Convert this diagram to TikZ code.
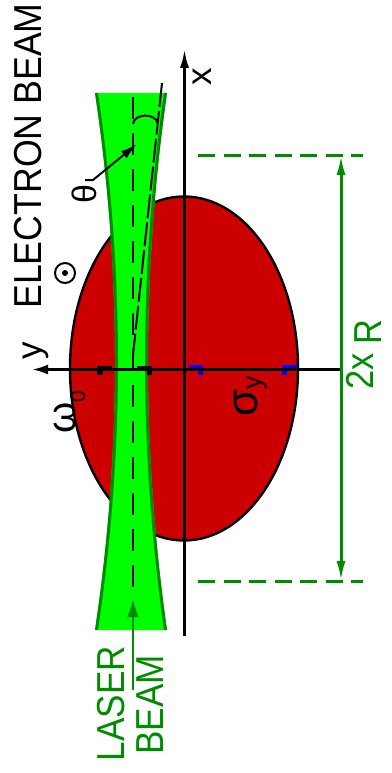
\documentclass[tikz,border=0pt]{standalone}
\usepackage{fontspec}
\setmainfont{Liberation Sans}
\usetikzlibrary{arrows.meta}
\definecolor{beamgreen}{HTML}{00FF00}
\definecolor{edgegreen}{HTML}{008A00}
\definecolor{dimgreen}{HTML}{008C00}
\definecolor{ered}{HTML}{CC0000}
\definecolor{tickblue}{HTML}{0000FF}
\begin{document}
\begin{tikzpicture}[x=1pt,y=-1pt,
  lbl/.style={inner sep=0pt, rotate=90, font=\fontsize{39}{39}\selectfont},
  axisline/.style={black, line width=2.7pt},
  dimline/.style={dimgreen, line width=3pt},
  dimdash/.style={dimgreen, line width=3pt, dash pattern=on 17pt off 8.5pt},
  beamedge/.style={edgegreen, line width=3pt},
  tickmark/.style={black},
  bluemark/.style={tickblue}]
\useasboundingbox (0,0) rectangle (391,773);
\clip (0,0) rectangle (391,773);

% coordinates
\coordinate (xbot) at (184.5,636);
\coordinate (xtop) at (184.5,49);
\coordinate (yright) at (342,369.5);
\coordinate (yleft) at (32,369.5);
\coordinate (dimtop) at (341,155);
\coordinate (dimbot) at (341,581);
\coordinate (dtl) at (198,155);
\coordinate (dtr) at (363,155);
\coordinate (dbl) at (198,581);
\coordinate (dbr) at (363,581);
\coordinate (lasfoot) at (133,690);
\coordinate (lastip) at (133,599);
\coordinate (thfoot) at (85,180);
\coordinate (thbend) at (93,180);
\coordinate (thtip) at (137,144);
\coordinate (ctop) at (132.7,97);
\coordinate (cbot) at (132.7,593);
\coordinate (ttop) at (162,83);
\coordinate (tbot) at (133,355);

% electron bunch
\draw[fill=ered, draw=black, line width=2.4pt] (184,368.5) ellipse [x radius=114pt, y radius=172pt];

% laser beam
\fill[beamgreen] (95,93) .. controls (121.67,272) and (121.67,451) .. (95,630)
  -- (167,630) .. controls (141.67,451) and (141.67,272) .. (167,93) -- cycle;
\draw[beamedge] (96.5,93) .. controls (123.17,272) and (123.17,451) .. (96.5,630);
\draw[beamedge] (165.5,93) .. controls (140.17,272) and (140.17,451) .. (165.5,630);

% beam axis and divergence line
\draw[black, line width=2.3pt, dash pattern=on 22pt off 14pt] (ctop) -- (cbot);
\draw[black, line width=2pt, dash pattern=on 24pt off 4pt] (ttop) -- (tbot);
\draw[black, line width=2pt] (133,124) .. controls (134,113) and (156,113) .. (157.5,123);
\draw[black, line width=2pt, -{Latex[length=17pt,width=9pt]}] (thfoot) -- (thbend) -- (thtip);

% axes
\draw[axisline, -{Latex[length=19pt,width=9pt]}] (xbot) -- (xtop);
\draw[axisline, -{Latex[length=16pt,width=10pt]}] (yright) -- (yleft);

% tick marks
\fill[tickmark] (97,366) rectangle (112,370);
\fill[tickmark] (97,370) rectangle (103,375);
\fill[tickmark] (137,366) rectangle (152,370);
\fill[tickmark] (147,370) rectangle (152,375);
\fill[bluemark] (189,365) rectangle (203,368);
\fill[bluemark] (198,371) rectangle (203,375);
\fill[bluemark] (282,365) rectangle (297,368);
\fill[bluemark] (282,371) rectangle (287,375);

% electron beam symbol
\draw[black, line width=2pt] (65,273) circle [radius=10pt];
\fill[black] (65,273) circle [radius=3pt];

% dimension 2x R
\draw[dimdash] (dtl) -- (dtr);
\draw[dimdash] (dbl) -- (dbr);
\draw[dimline, {Latex[length=20pt,width=9pt]}-{Latex[length=20pt,width=9pt]}] (dimtop) -- (dimbot);

% laser arrow
\draw[dimgreen, line width=2.3pt, -{Latex[length=18pt,width=12pt]}] (lasfoot) -- (lastip);

% labels
\node[lbl] (eb) at (28,156) {\scalebox{0.915}[1]{ELECTRON BEAM}};
\node[lbl, text=dimgreen] (las) at (111,703.5) {\scalebox{0.9}[1]{LASER}};
\node[lbl, text=dimgreen] (bm) at (150.5,705) {\scalebox{0.9}[1]{BEAM}};
\node[lbl, font=\fontsize{35}{35}\selectfont] (xl) at (202,77) {x};
\node[lbl, font=\fontsize{35}{35}\selectfont] (yl) at (35.5,351) {y};
\node[lbl, font=\fontsize{34}{34}\selectfont] (th) at (84.5,194) {θ};
\node[lbl, anchor=base west, font=\fontsize{40}{40}\selectfont] (om) at (75,434)
  {ω\raisebox{-10pt}{\fontsize{21}{21}\selectfont 0}};
\node[lbl, anchor=base west, font=\fontsize{44}{44}\selectfont] (sg) at (257,417)
  {σ\raisebox{-4pt}{\fontsize{27}{27}\selectfont y}};
\node[lbl, anchor=base west, text=dimgreen] (rr) at (373,390)
  {\scalebox{0.88}[1]{2x\hspace{10pt}\raisebox{-8pt}{R}}};
\end{tikzpicture}
\end{document}
